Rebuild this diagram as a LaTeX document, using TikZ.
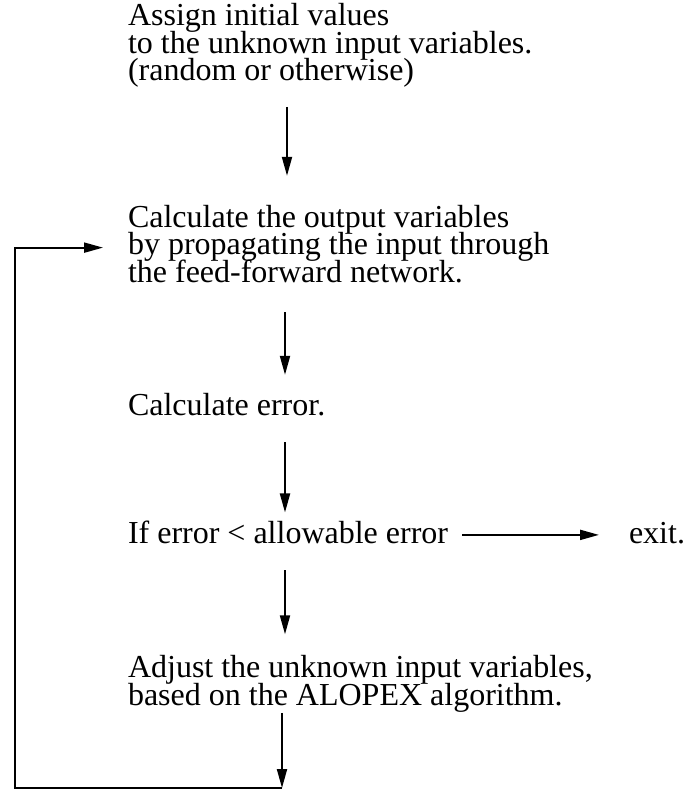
\documentclass[tikz,border=0pt]{standalone}
\usepackage{fontspec}
\setmainfont{Liberation Serif}
\usetikzlibrary{arrows.meta}
\newcommand\myfontx{\fontsize{32}{27.5}\selectfont\lineskiplimit=-40pt\relax}
\begin{document}
\begin{tikzpicture}[x=1pt,y=-1pt,
  txt/.style={inner sep=0pt,outer sep=0pt,anchor=base west,align=left,font=\myfontx},
  arr/.style={line width=2pt,-{Triangle[length=19pt,width=10pt]}},
  ln/.style={line width=2pt}]
\useasboundingbox[fill=white] (0,0) rectangle (686,792);
\node[txt] (t1) at (128,81) {Assign initial values\\to the unknown input variables.\\(random or otherwise)};
\node[txt] (t2) at (128,282) {Calculate the output variables\\by propagating the input through\\the feed-forward network.};
\node[txt] (t3) at (128,415) {Calculate error.};
\node[txt] (t4) at (128,543) {If error < allowable error};
\node[txt] (ex) at (629,543) {exit.};
\node[txt] (t5) at (128,705) {Adjust the unknown input variables,\\based on the ALOPEX algorithm.};
\coordinate (c1) at (287,0);
\coordinate (c2) at (285,0);
\coordinate (lp) at (282,788);
\coordinate (lx) at (15,0);
\draw[arr,shorten <=19pt,shorten >=29pt] (t1.south -| c1) -- (t2.north -| c1);
\draw[arr,shorten <=30pt,shorten >=18pt] (t2.south -| c2) -- (t3.north -| c2);
\draw[arr,shorten <=27pt,shorten >=8pt] (t3.south -| c2) -- (t4.north -| c2);
\draw[arr,shorten <=27pt,shorten >=21pt] (t4.south -| c2) -- (t5.north -| c2);
\draw[arr,shorten <=1pt] (t5.south -| lp) -- (lp);
\draw[arr,shorten <=14pt,shorten >=30pt] ([yshift=-3pt]t4.east) -- ([yshift=-3pt]t4.east -| ex.west);
\draw[arr,shorten >=25pt,line join=miter] (lp) -- (lp -| lx) |- ([yshift=-4pt]t2.west);
\end{tikzpicture}
\end{document}
